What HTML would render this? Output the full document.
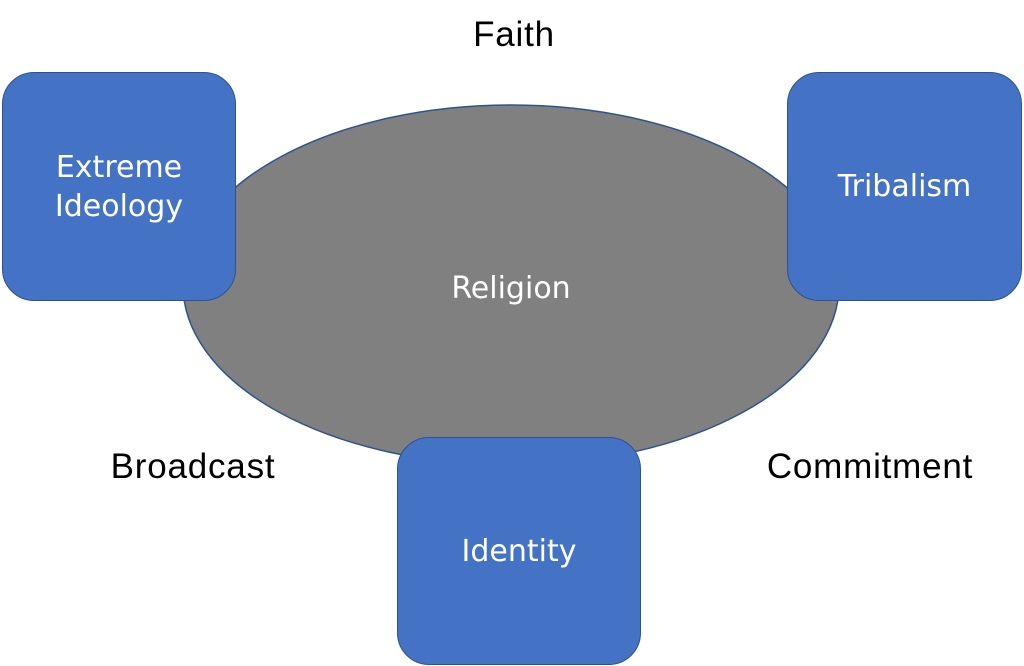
<!DOCTYPE html>
<html><head><meta charset="utf-8"><style>
html,body{margin:0;padding:0;background:#fff;}
body{width:1024px;height:666px;position:relative;overflow:hidden;font-family:"Liberation Sans",sans-serif;}
.box{position:absolute;background:#4472C4;border:1.5px solid #2F528F;border-radius:32px;box-sizing:border-box;display:flex;align-items:center;justify-content:center;text-align:center;color:#fff;font-family:"DejaVu Sans","Liberation Sans",sans-serif;font-size:30px;line-height:1.3;}
.lbl{position:absolute;font-size:35px;letter-spacing:0.8px;color:#000;transform:translateX(-50%);white-space:nowrap;}
</style></head><body>
<svg width="1024" height="666" style="position:absolute;left:0;top:0">
<ellipse cx="511" cy="285" rx="328" ry="180" fill="#808080" stroke="#2F528F" stroke-width="1.5"/>
<text x="511" y="298" fill="#fff" font-family="DejaVu Sans, Liberation Sans, sans-serif" font-size="30" text-anchor="middle">Religion</text>
</svg>
<div class="box" style="left:2px;top:72px;width:234px;height:229px;">Extreme<br>Ideology</div>
<div class="box" style="left:787px;top:72px;width:235px;height:229px;">Tribalism</div>
<div class="box" style="left:397px;top:437px;width:244px;height:228px;">Identity</div>
<div class="lbl" style="left:514px;top:15px;">Faith</div>
<div class="lbl" style="left:193px;top:447px;">Broadcast</div>
<div class="lbl" style="left:870px;top:447px;">Commitment</div>
</body></html>
